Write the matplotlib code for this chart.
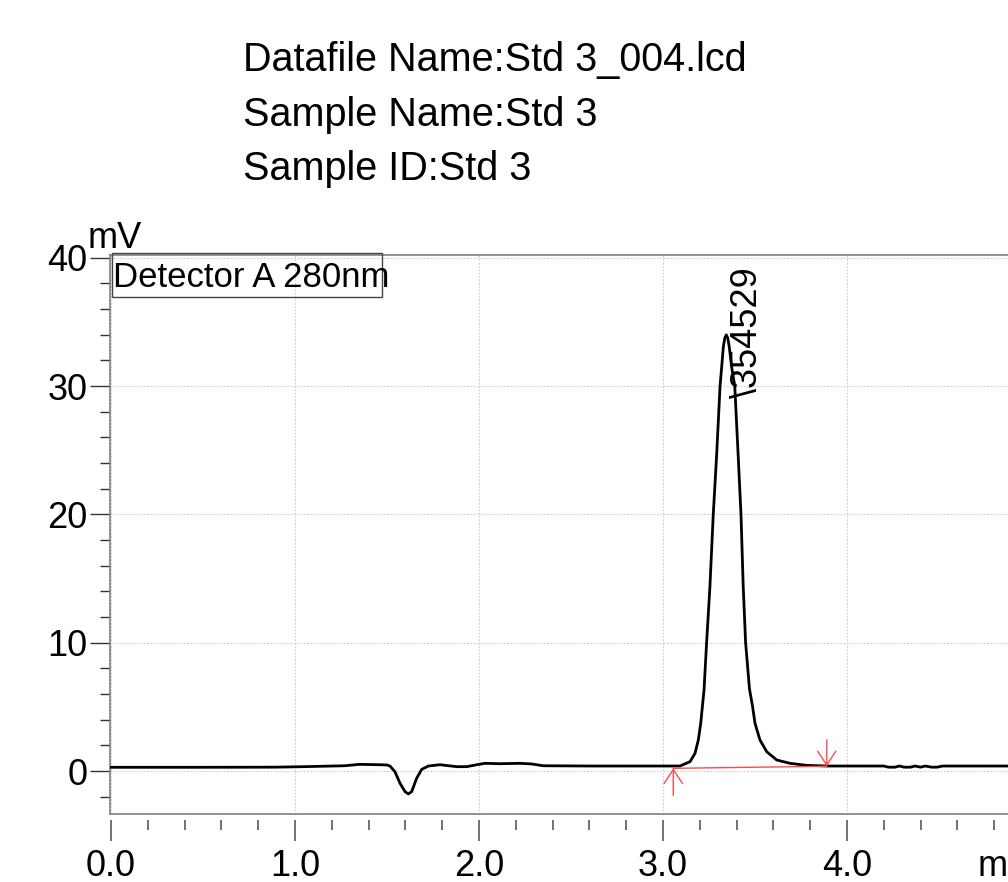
import matplotlib
matplotlib.use('Agg')
import matplotlib.pyplot as plt
from matplotlib.patches import Rectangle
from matplotlib.ticker import MultipleLocator

# ---------------- data ----------------
title_lines = ["Datafile Name:Std 3_004.lcd", "Sample Name:Std 3", "Sample ID:Std 3"]
detector_label = "Detector A 280nm"
y_unit = "mV"
x_unit = "min"

time_min = [0.00, 0.45, 0.89, 1.05, 1.27, 1.35, 1.46, 1.50, 1.516, 1.543, 1.571,
            1.598, 1.616, 1.634, 1.661, 1.689, 1.725, 1.788, 1.879, 1.933, 1.988,
            2.033, 2.114, 2.223, 2.286, 2.35, 2.60, 2.90, 3.054, 3.092, 3.147,
            3.174, 3.192, 3.205, 3.214, 3.223, 3.237, 3.255, 3.273, 3.292, 3.310,
            3.319, 3.328, 3.336, 3.344, 3.352, 3.360, 3.373, 3.390, 3.408, 3.424,
            3.436, 3.449, 3.470, 3.487, 3.500, 3.527, 3.564, 3.618, 3.690, 3.781,
            3.890, 4.016, 4.200, 4.225, 4.260, 4.285, 4.310, 4.345, 4.370, 4.400,
            4.425, 4.460, 4.490, 4.520, 4.700, 5.000]
signal_mv = [0.29, 0.29, 0.30, 0.34, 0.41, 0.52, 0.49, 0.47, 0.39, -0.05, -0.96,
             -1.61, -1.79, -1.61, -0.57, 0.13, 0.39, 0.49, 0.34, 0.34, 0.49,
             0.60, 0.57, 0.60, 0.55, 0.41, 0.39, 0.39, 0.39, 0.39, 0.73,
             1.38, 2.42, 3.72, 5.01, 6.31, 10.0, 14.36, 19.95, 24.76, 30.0,
             31.5, 33.07, 33.75, 34.0, 33.75, 33.07, 31.5, 30.0, 24.76, 19.95,
             14.36, 10.0, 6.4, 5.01, 3.72, 2.42, 1.50, 0.86, 0.60, 0.44,
             0.39, 0.39, 0.39, 0.30, 0.30, 0.39, 0.30, 0.30, 0.39, 0.30,
             0.39, 0.30, 0.30, 0.39, 0.39, 0.39]

peak_time = 3.344
peak_height = 34.0
peak_label = "\\354529"
peak_start_time, peak_start_mv = 3.056, 0.21
peak_end_time, peak_end_mv = 3.890, 0.37

x_ticks = [0.0, 1.0, 2.0, 3.0, 4.0]
x_tick_labels = ["0.0", "1.0", "2.0", "3.0", "4.0"]
y_ticks = [0, 10, 20, 30, 40]
y_tick_labels = ["0", "10", "20", "30", "40"]

# ---------------- figure ----------------
plt.rcParams['font.family'] = ['Liberation Sans', 'DejaVu Sans']
W, H = 1008, 882
fig = plt.figure(figsize=(W / 100, H / 100), dpi=100)

def fx(x):
    return x / W

def fy(y):
    return 1 - y / H

ax_l, ax_r, ax_t, ax_b = 110, 1031, 255, 814
ax = fig.add_axes([fx(ax_l), fy(ax_b), (ax_r - ax_l) / W, (ax_b - ax_t) / H])
ax.set_xlim(-0.0054, 5.0)
ax.set_ylim(-3.35, 40.22)

spine_col = '#7f7f7f'
for s in ['left', 'top', 'bottom']:
    ax.spines[s].set_color(spine_col)
    ax.spines[s].set_linewidth(1.2)
ax.spines['right'].set_visible(False)

# grid
ax.set_xticks(x_ticks)
ax.set_yticks(y_ticks, y_tick_labels)
ax.grid(True, which='major', color='#cccccc', linestyle=(0, (1.5, 1.5)), linewidth=0.8)
ax.set_axisbelow(True)

ax.tick_params(axis='x', which='both', bottom=False, labelbottom=False, top=False)
ax.yaxis.set_minor_locator(MultipleLocator(2))
ax.tick_params(axis='y', which='major', direction='out', length=14.4, width=1.0,
               color='#333333', labelsize=26, pad=2)
ax.tick_params(axis='y', which='minor', direction='out', length=7.2, width=1.0,
               color='#333333')

# detached x tick axis
sec = ax.secondary_xaxis(-6 / (ax_b - ax_t))
sec.spines['bottom'].set_visible(False)
sec.set_xticks(x_ticks, x_tick_labels)
sec.xaxis.set_minor_locator(MultipleLocator(0.2))
sec.tick_params(which='major', direction='out', length=15, width=1.3,
                color='#666666', labelsize=26, pad=6)
sec.tick_params(which='minor', direction='out', length=7.5, width=1.3,
                color='#666666')

# chromatogram
ax.plot(time_min, signal_mv, color='black', lw=2.0, solid_joinstyle='round', zorder=3)

# baseline + arrows
red = '#ff4a4a'
ax.plot([peak_start_time, peak_end_time], [peak_start_mv, peak_end_mv],
        color=red, lw=1.0, zorder=4)
arrow_style = '->,head_length=0.5,head_width=0.33'
ax.annotate('', xy=(peak_start_time, peak_start_mv), xytext=(0, -19.5),
            textcoords='offset points',
            arrowprops=dict(arrowstyle=arrow_style, color=red, lw=1.0,
                            shrinkA=0, shrinkB=0, mutation_scale=20), zorder=4)
ax.annotate('', xy=(peak_end_time, peak_end_mv), xytext=(0, 19),
            textcoords='offset points',
            arrowprops=dict(arrowstyle=arrow_style, color=red, lw=1.0,
                            shrinkA=0, shrinkB=0, mutation_scale=20), zorder=4)

# peak label
ax.annotate(peak_label, xy=(peak_time, peak_height), xytext=(22, -45.5),
            textcoords='offset points', rotation=90, rotation_mode='anchor',
            ha='left', va='baseline', fontsize=26, zorder=5)

# detector legend box
bw = (382 - 112) / (ax_r - ax_l)
bh = (296.7 - 253) / (ax_b - ax_t)
ax.add_patch(Rectangle(((112 - ax_l) / (ax_r - ax_l), 1 - (296.7 - ax_t) / (ax_b - ax_t)),
                       bw, bh, transform=ax.transAxes, fill=False,
                       ec='#444444', lw=1.0, clip_on=False, zorder=5))
fig.text(fx(113), fy(287), detector_label, fontsize=25, ha='left', va='baseline')

# units
fig.text(fx(88), fy(248), y_unit, fontsize=26, ha='left', va='baseline')
fig.text(fx(978), fy(876), x_unit, fontsize=26, ha='left', va='baseline')

# title
for line, base in zip(title_lines, [71, 126.5, 180]):
    fig.text(fx(243), fy(base), line, fontsize=28.5, ha='left', va='baseline')

fig.savefig('out.png', dpi=100)
